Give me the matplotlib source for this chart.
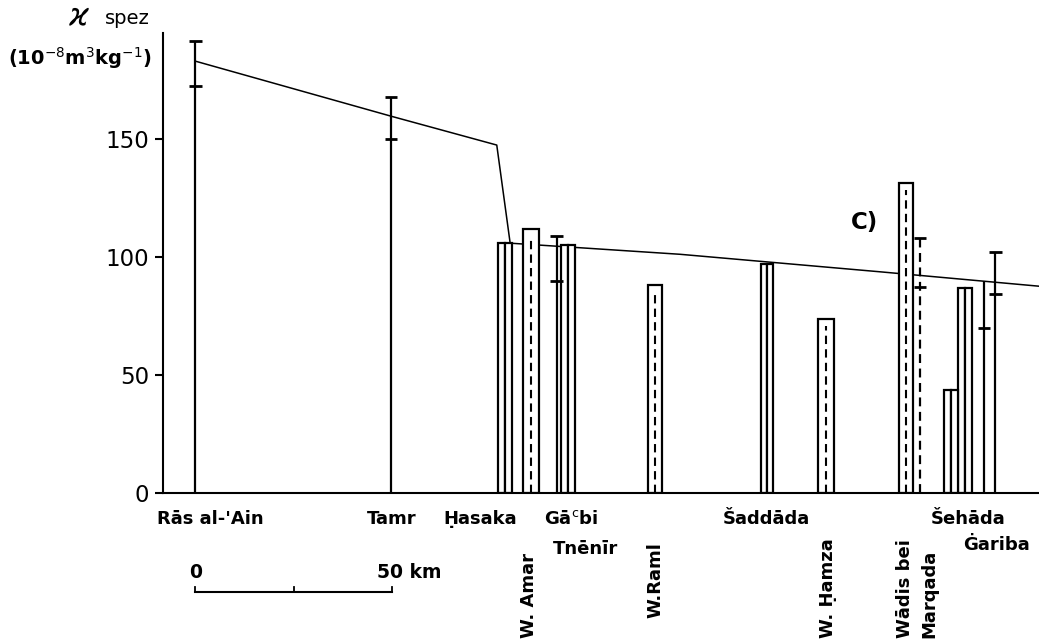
import matplotlib.pyplot as plt
import matplotlib.transforms as mtransforms

plt.rcParams['font.family'] = ['DejaVu Sans']

# -------------- DATA (km from Ras al-'Ain, susceptibility 10^-8 m^3/kg) ------
# stations drawn as a stem with caps: stem top, upper cap, lower cap
err_x = [0, 49.7, 91.7, 183.9, 200.1, 203.0]
err_top = [191.4, 167.7, 108.8, 108.0, 89.7, 102.1]
err_low = [172.2, 149.8, 89.7, 87.3, 70.1, 84.1]
err_has_top_cap = [True, True, True, True, False, True]
err_dashed = [False, False, False, True, False, False]

# single bars with dashed middle line
dash_x = [85.2, 116.7, 160.0, 180.4]
dash_w = [4.1, 3.55, 4.06, 3.4]
dash_y = [111.7, 88.3, 73.6, 131.3]

# split (double) bars: left edge, full width, height
dbl_left = [76.9, 92.9, 143.5, 190.1, 193.5]
dbl_w = [3.5, 3.5, 3.2, 3.4, 3.6]
dbl_y = [105.8, 105.0, 97.2, 43.9, 86.9]

# trend line
line_x = [0, 49.7, 76.5, 79.9, 123.0, 173.7, 214.1]
line_y = [182.8, 159.5, 147.3, 105.8, 101.1, 93.7, 87.6]

yticks = [0, 50, 100, 150]

# place names: (text, x km, y px, rotation, ha)
names = [
    ("Rās al-'Ain", -9.7, 519, 0, 'left'),
    ("Tamr", 49.8, 519, 0, 'center'),
    ("Ḥasaka", 72.3, 519, 0, 'center'),
    ("Gā$^{\\mathrm{c}}$bi", 95.4, 519, 0, 'center'),
    ("Tnēnīr", 98.9, 549, 0, 'center'),
    ("W. Amar", 84.7, 638, 90, 'center'),
    ("W.Raml", 116.9, 618, 90, 'center'),
    ("Šaddāda", 145.0, 519, 0, 'center'),
    ("W. Ḥamza", 160.6, 638, 90, 'center'),
    ("Wādis bei", 180.1, 638, 90, 'center'),
    ("Marqada", 186.2, 638, 90, 'center'),
    ("Šehāda", 196.1, 519, 0, 'center'),
    ("Ġariba", 203.2, 545, 0, 'center'),
]
# -----------------------------------------------------------------------------

W, H = 1039, 644
fig = plt.figure(figsize=(W / 100, H / 100), dpi=100)
ax = fig.add_axes([163.3 / W, 1 - 493.3 / H, 1 - 163.3 / W, (493.3 - 33) / H])
ax.set_xlim(-8.12, 214.1)
ax.set_ylim(0, 194.7)

lw = 1.6
dashes = (0, (4, 2.5))
# trend line
ax.plot(line_x, line_y, color='black', lw=1.1, zorder=1)

# dashed single bars
ax.bar(dash_x, dash_y, dash_w, color='white', edgecolor='black', lw=lw, zorder=2)
ax.vlines(dash_x, 0, [v - 3 for v in dash_y], colors='black', lw=1.5,
          linestyles=dashes, zorder=3)

# double bars
half = [w / 2 for w in dbl_w]
ax.bar(dbl_left, dbl_y, half, align='edge', color='white', edgecolor='black', lw=lw, zorder=2)
ax.bar([l + h for l, h in zip(dbl_left, half)], dbl_y, half, align='edge',
       color='white', edgecolor='black', lw=lw, zorder=2)

# stems with caps
cap = 1.6
for x, t, lo, tc, d in zip(err_x, err_top, err_low, err_has_top_cap, err_dashed):
    ax.vlines(x, 0, t, colors='black', lw=lw, zorder=4,
              linestyles=dashes if d else 'solid')
    if tc:
        ax.hlines(t, x - cap, x + cap, colors='black', lw=lw + 0.4, zorder=4)
    ax.hlines(lo, x - cap, x + cap, colors='black', lw=lw + 0.4, zorder=4)

for s in ['top', 'right']:
    ax.spines[s].set_visible(False)
ax.spines['left'].set_linewidth(1.5)
ax.spines['bottom'].set_linewidth(1.5)
ax.set_xticks([])
ax.set_yticks(yticks)
ax.tick_params(axis='y', length=6, width=1.5, pad=4, labelsize=16.5)

# axis title
fig.text(68 / W, 1 - 17 / H, r'$\varkappa$', fontsize=22, ha='left', va='center')
fig.text(105 / W, 1 - 18 / H, 'spez', fontsize=14, ha='left', va='center')
fig.text(8 / W, 1 - 58 / H, r'(10$^{-8}$m$^{3}$kg$^{-1}$)', fontsize=14,
         ha='left', va='center', fontweight='bold')

fig.text(851 / W, 1 - 223 / H, 'C)', fontsize=16.5, fontweight='bold',
         ha='left', va='center')

# place names
tr = mtransforms.blended_transform_factory(ax.transData, fig.transFigure)
for txt, x, ypx, rot, ha in names:
    if rot:
        ax.text(x, 1 - ypx / H, txt, transform=tr, rotation=90, ha='center',
                va='bottom', fontsize=13, fontweight='bold')
    else:
        ax.text(x, 1 - ypx / H, txt, transform=tr, ha=ha, va='center',
                fontsize=13, fontweight='bold')

# scale bar 0 - 50 km
yb = 1 - 591.7 / H
ax.plot([0, 50], [yb, yb], transform=tr, color='black', lw=1.5, clip_on=False)
for k in [0, 25, 50]:
    ax.plot([k, k], [yb, yb + 5 / H], transform=tr, color='black', lw=1.3, clip_on=False)
ax.text(0, 1 - 572 / H, '0', transform=tr, ha='center', va='center',
        fontsize=13.5, fontweight='bold')
ax.text(46.1, 1 - 572 / H, '50 km', transform=tr, ha='left', va='center',
        fontsize=13.5, fontweight='bold')

fig.savefig('out.png', dpi=100)
